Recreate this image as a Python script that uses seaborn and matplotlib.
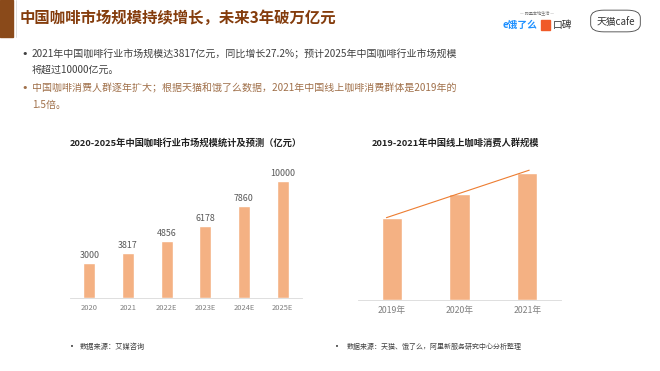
import numpy as np
import matplotlib
matplotlib.use("Agg")
import matplotlib.pyplot as plt
from matplotlib.patches import Rectangle, FancyBboxPatch
import seaborn as sns

sns.set_theme(style="white")
plt.rcParams['font.family'] = ['Noto Sans CJK SC', 'DejaVu Sans']

# data
market_years = ['2020', '2021', '2022E', '2023E', '2024E', '2025E']
market_size = [3000, 3817, 4856, 6178, 7860, 10000]

user_years = ['2019年', '2020年', '2021年']
user_scale = [1.00, 1.30, 1.55]   # relative scale, 2021 = 1.5x 2019

BAR_COLOR = '#F4B183'
LINE_COLOR = '#ED7D31'
TITLE_COLOR = '#843C0C'

W, H = 660, 371
fig = plt.figure(figsize=(W / 100, H / 100), dpi=100)
fig.patch.set_facecolor('white')


def px(x, y):
    # pixel coordinates (from top-left) -> figure fraction
    return x / W, 1 - y / H


def add_ax(left, top, width, height):
    return fig.add_axes([left / W, 1 - (top + height) / H, width / W, height / H])


# header
fig.patches.append(Rectangle((0, 1 - 37 / H), 13 / W, 37 / H, transform=fig.transFigure,
                             color='#8A4A1A', zorder=0))
fig.lines.append(plt.Line2D([16 / W, 16 / W], [1 - 37 / H, 1], transform=fig.transFigure,
                            color='#d9d9d9', lw=0.6))
fig.text(*px(20, 18), '中国咖啡市场规模持续增长，未来3年破万亿元', fontsize=11.1,
         fontweight='bold', color=TITLE_COLOR, va='center', ha='left')

# logos (text stand-ins)
fig.text(*px(537, 13), '— 阿里本地生活 —', fontsize=3, color='#777777', ha='center', va='center')
fig.text(*px(520, 25), 'e饿了么', fontsize=7, color='#1E90FF', ha='center', va='center', fontweight='bold')
fig.patches.append(Rectangle((541 / W, 1 - 30 / H), 9 / W, 10 / H, transform=fig.transFigure,
                             color='#F05A28'))
fig.text(*px(562, 25), '口碑', fontsize=7, color='#333333', ha='center', va='center')
fig.patches.append(FancyBboxPatch((594 / W, 1 - 30 / H), 43 / W, 18 / H,
                                  boxstyle='round,pad=0.005,rounding_size=0.02',
                                  transform=fig.transFigure, fill=False, ec='#444444', lw=0.6))
fig.text(*px(616, 22), '天猫cafe', fontsize=7, color='#333333', ha='center', va='center')

# bullet text
body = [
    (54, '2021年中国咖啡行业市场规模达3817亿元，同比增长27.2%；预计2025年中国咖啡行业市场规模', '#404040', True),
    (70, '将超过10000亿元。', '#404040', False),
    (88, '中国咖啡消费人群逐年扩大；根据天猫和饿了么数据，2021年中国线上咖啡消费群体是2019年的', '#A0704A', True),
    (105, '1.5倍。', '#A0704A', False),
]
for y, txt, col, bullet in body:
    if bullet:
        fig.text(*px(21, y), '•', fontsize=8, color=col, ha='left', va='center', family='DejaVu Sans')
    fig.text(*px(32, y), txt, fontsize=7.2, color=col, ha='left', va='center')

# left chart
fig.text(*px(186, 143), '2020-2025年中国咖啡行业市场规模统计及预测（亿元）', fontsize=6.7,
         fontweight='bold', color='#222222', ha='center', va='center')
ax1 = add_ax(70, 169, 232, 129)
sns.barplot(x=market_years, y=market_size, color=BAR_COLOR, width=0.31, saturation=1, ax=ax1)
ax1.set_ylim(0, 11000)
ax1.set_xlim(-0.5, 5.5)
for i, v in enumerate(market_size):
    ax1.text(i, v + 250, str(v), ha='center', va='bottom', fontsize=6.4, color='#595959')
ax1.set_yticks([])
ax1.tick_params(axis='x', labelsize=5.4, colors='#7f7f7f', length=0, pad=4)
ax1.set_xlabel('')
ax1.set_ylabel('')
sns.despine(ax=ax1, left=True)
ax1.spines['bottom'].set_color('#d9d9d9')
ax1.spines['bottom'].set_linewidth(0.6)
ax1.set_facecolor('none')

# right chart
fig.text(*px(455, 143), '2019-2021年中国线上咖啡消费人群规模', fontsize=6.7,
         fontweight='bold', color='#222222', ha='center', va='center')
ax2 = add_ax(358, 165, 203, 135)
sns.barplot(x=user_years, y=user_scale, color=BAR_COLOR, width=0.3, saturation=1, ax=ax2)
ax2.set_ylim(0, 1.65)
ax2.set_xlim(-0.5, 2.5)
k, b = np.polyfit(np.arange(len(user_scale)), user_scale, 1)
xs = np.array([-0.08, 2.03])
ax2.plot(xs, k * xs + b + 0.02, color=LINE_COLOR, lw=0.8)
ax2.set_yticks([])
ax2.tick_params(axis='x', labelsize=6.3, colors='#7f7f7f', length=0, pad=4)
ax2.set_xlabel('')
ax2.set_ylabel('')
sns.despine(ax=ax2, left=True)
ax2.spines['bottom'].set_color('#d9d9d9')
ax2.spines['bottom'].set_linewidth(0.6)
ax2.set_facecolor('none')

# sources
fig.text(*px(70, 347), '•', fontsize=5, color='#404040', ha='left', va='center', family='DejaVu Sans')
fig.text(*px(80, 347), '数据来源：艾媒咨询', fontsize=5.2, color='#404040', ha='left', va='center')
fig.text(*px(335, 347), '•', fontsize=5, color='#404040', ha='left', va='center', family='DejaVu Sans')
fig.text(*px(347, 347), '数据来源：天猫、饿了么，阿里新服务研究中心分析整理', fontsize=5.0,
         color='#404040', ha='left', va='center')

fig.savefig('out.png', dpi=100, facecolor='white')
